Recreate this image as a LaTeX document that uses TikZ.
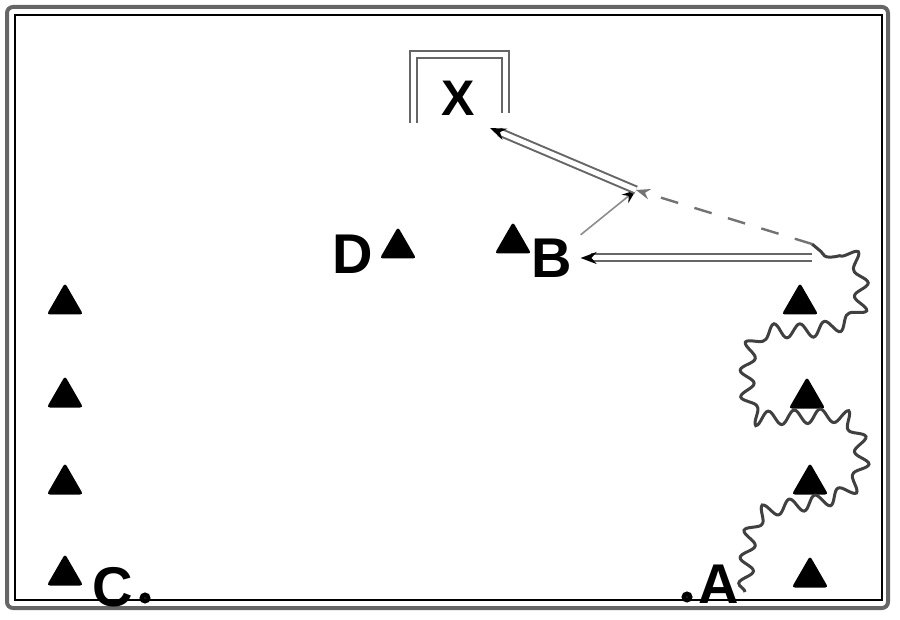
\documentclass[tikz,border=0pt]{standalone}
\usepackage{fontspec}
\setmainfont{Liberation Sans}
\usetikzlibrary{shapes.geometric,arrows.meta,decorations.pathmorphing}

\begin{document}
\begin{tikzpicture}[x=0.5pt,y=-0.5pt,
cone/.style={regular polygon,regular polygon sides=3,fill=black,inner sep=0,minimum size=21pt,rounded corners=1.5pt},
lbl/.style={font=\bfseries\fontsize{28}{28}\selectfont,inner sep=4pt},
ball/.style={circle,draw,line width=2.4pt,fill=white,inner sep=0,minimum size=3pt},
pass/.style={draw=black!60,double=white,line width=1pt,double distance=2.5pt},
run/.style={draw=black!55,line width=1.2pt,dash pattern=on 9pt off 8.5pt},
dribble/.style={draw=black!75,line width=1.5pt,decorate,decoration={snake,segment length=13pt,amplitude=3.5pt}}]
\useasboundingbox (0,0) rectangle (900,620);
% field
\draw[black!60,line width=2pt,rounded corners=3pt] (7,7) rectangle (888,608);
\draw[line width=0.8pt] (15,15) rectangle (882,600);
% goal
\draw[pass] (413,123) -- (413,55) -- (505,55) -- (505,113);
\node[lbl,font=\bfseries\fontsize{25}{25}\selectfont] (x) at (458,98) {X};
% cones
\foreach \y [count=\i] in {304,397,484,575} \node[cone] (l\i) at (65,\y) {};
\node[cone] (r1) at (800,304) {};
\node[cone] (r2) at (807,398) {};
\node[cone] (r3) at (810,484) {};
\node[cone] (r4) at (810,577) {};
\node[cone] (cd) at (398,248) {};
\node[cone] (cb) at (513,243) {};
% players
\node[lbl] (d) at (353,254) {D};
\node[lbl] (b) at (552,258) {B};
\node[lbl] (c) at (113,587) {C};
\node[lbl] (a) at (719,584) {A};
\node[ball] (bc) at (145,598) {};
\node[ball] (ba) at (687,597) {};
% moves
\coordinate (s) at (745,592);
\coordinate (p1) at (812,244);
\coordinate (p2) at (636,190);
\coordinate (g) at (490,128);
\draw[dribble] (s) to[out=85,in=190] (775,515) to[out=10,in=-90] (862,470)
  to[out=90,in=0] (835,422) -- (760,425) to[out=180,in=-90] (742,378)
  to[out=90,in=180] (765,338) to[out=0,in=200] (838,330)
  to[out=20,in=-90] (852,285) to[out=90,in=-45] (p1);
\draw[pass,-{Stealth[length=8pt,black]}] (p1 |- b) -- (b);
\draw[run,-{Stealth[length=7pt]}] (p1) -- (p2);
\draw[black!45,line width=0.8pt,-{Stealth[length=7pt,black]}] (b) -- (p2);
\draw[pass,-{Stealth[length=8pt,black]}] (p2) -- (g);
\end{tikzpicture}
\end{document}
